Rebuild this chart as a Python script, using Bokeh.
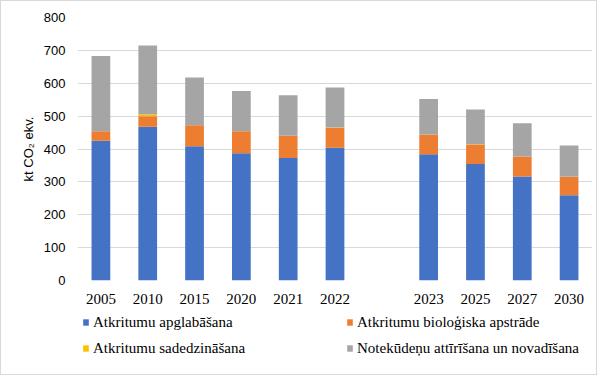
from bokeh.plotting import figure
from bokeh.layouts import column
from bokeh.models import ColumnDataSource, FactorRange, Range1d, Legend, LegendItem
from bokeh.embed import file_html
from bokeh.resources import INLINE

# --- data ---
years = ["2005", "2010", "2015", "2020", "2021", "2022", "2023", "2025", "2027", "2030"]
factors = ["2005", "2010", "2015", "2020", "2021", "2022", " ", "2023", "2025", "2027", "2030"]
apglabasana = [425, 468, 408, 387, 373, 404, 384, 354, 316, 259]
biologiska = [29, 32, 64, 67, 67, 61, 60, 60, 61, 56]
sadedzinasana = [0, 5, 0.3, 0.3, 0.3, 0.3, 0.3, 0.3, 0.3, 0.3]
notekudenu = [229, 210, 145, 122, 123, 122, 108, 106, 101, 95]

series = ["apglabasana", "biologiska", "sadedzinasana", "notekudenu"]
labels = ["Atkritumu apglabāšana", "Atkritumu bioloģiska apstrāde",
          "Atkritumu sadedzināšana", "Notekūdeņu attīrīšana un novadīšana"]
colors = ["#4472C4", "#ED7D31", "#FFC000", "#A5A5A5"]

source = ColumnDataSource(dict(year=years, apglabasana=apglabasana, biologiska=biologiska,
                               sadedzinasana=sadedzinasana, notekudenu=notekudenu))

p = figure(width=595, height=308, x_range=FactorRange(*factors), y_range=(0, 800),
           output_backend="svg", toolbar_location=None,
           min_border_left=76, min_border_right=4, min_border_top=16, min_border_bottom=28)
p.outline_line_color = None
p.background_fill_color = "white"
p.border_fill_color = "white"

rs = p.vbar_stack(series, x="year", width=0.4, source=source, color=colors, line_color=None)

# axes
p.yaxis.ticker = [0, 100, 200, 300, 400, 500, 600, 700, 800]
p.yaxis.axis_line_color = None
p.yaxis.major_tick_line_color = None
p.yaxis.minor_tick_line_color = None
p.yaxis.major_tick_out = 0
p.yaxis.major_tick_in = 0
p.yaxis.minor_tick_out = 0
p.yaxis.major_label_text_font = "Liberation Sans"
p.yaxis.major_label_text_font_size = "13px"
p.yaxis.major_label_text_color = "#000000"
p.yaxis.major_label_standoff = 12
p.yaxis.axis_label = "kt CO₂ ekv."
p.yaxis.axis_label_text_font = "Liberation Sans"
p.yaxis.axis_label_text_font_size = "13px"
p.yaxis.axis_label_text_font_style = "normal"
p.yaxis.axis_label_text_color = "#000000"
p.yaxis.axis_label_standoff = 5

p.xaxis.axis_line_color = None
p.xaxis.major_tick_line_color = None
p.xaxis.minor_tick_line_color = None
p.xaxis.major_tick_out = 0
p.xaxis.major_tick_in = 0
p.xaxis.major_label_text_font = "Liberation Serif"
p.xaxis.major_label_text_font_size = "15px"
p.xaxis.major_label_text_color = "#000000"
p.xaxis.major_label_standoff = 10

p.xgrid.grid_line_color = None
p.ygrid.grid_line_color = "#d9d9d9"
p.ygrid.grid_line_width = 1

# legend panel (proxy glyphs carry only the series colours, no visible data)
nan = float("nan")
p2 = figure(width=595, height=65, x_range=Range1d(0, 1), y_range=Range1d(0, 1),
            output_backend="svg", toolbar_location=None,
            min_border_left=0, min_border_right=0, min_border_top=0, min_border_bottom=0)
p2.axis.visible = False
p2.grid.visible = False
p2.outline_line_color = None
proxies = [p2.vbar(x=[nan], top=[nan], width=0.4, color=c, line_color=None) for c in colors]

def make_legend(idx, x):
    leg = Legend(items=[LegendItem(label=labels[i], renderers=[proxies[i]]) for i in idx],
                 location=(x, 16), orientation="vertical",
                 glyph_width=7, glyph_height=8, label_standoff=4, label_height=20,
                 spacing=6, padding=0, margin=0, border_line_color=None,
                 background_fill_alpha=0,
                 label_text_font="Liberation Serif", label_text_font_size="15px",
                 label_text_color="#000000")
    p2.add_layout(leg, "center")

make_legend([0, 2], 5)
make_legend([1, 3], 269)

layout = column(p, p2, spacing=0)
layout.styles = {"border": "1px solid #d9d9d9"}

open("out.html", "w").write(file_html(layout, INLINE))
